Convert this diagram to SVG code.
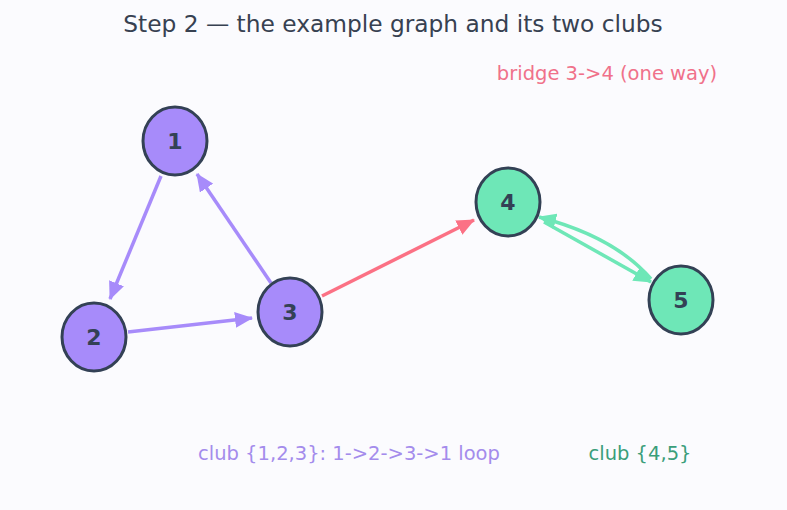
<svg xmlns="http://www.w3.org/2000/svg" width="787" height="510" viewBox="0 0 787 510">
<style>
text{font-family:"DejaVu Sans","Liberation Sans",sans-serif}
.node{stroke:#334155;stroke-width:3}
.a{fill:#a78bfa}
.b{fill:#6ee7b7}
.lbl{font-size:22px;font-weight:bold;fill:#334155;text-anchor:middle}
.e{fill:none;stroke-width:3.5}
</style>
<defs>
<marker id="mp" markerUnits="userSpaceOnUse" markerWidth="18" markerHeight="16" refX="17" refY="8" orient="auto"><path d="M0,0 L18,8 L0,16 Z" fill="#a78bfa"/></marker>
<marker id="mr" markerUnits="userSpaceOnUse" markerWidth="18" markerHeight="16" refX="17" refY="8" orient="auto"><path d="M0,0 L18,8 L0,16 Z" fill="#fb7185"/></marker>
<marker id="mg" markerUnits="userSpaceOnUse" markerWidth="18" markerHeight="16" refX="17" refY="8" orient="auto"><path d="M0,0 L18,8 L0,16 Z" fill="#6ee7b7"/></marker>
</defs>
<rect width="787" height="510" fill="#fbfbfe"/>
<text x="393" y="32" font-size="23.3" fill="#374151" text-anchor="middle">Step 2 — the example graph and its two clubs</text>
<text x="607" y="80" font-size="19.5" fill="#f0718a" text-anchor="middle">bridge 3-&gt;4 (one way)</text>
<g id="connectors">
<path class="e" d="M161,176 L110,299" stroke="#a78bfa" marker-end="url(#mp)"/>
<path class="e" d="M128,332 L252,318" stroke="#a78bfa" marker-end="url(#mp)"/>
<path class="e" d="M271,283 L197,174" stroke="#a78bfa" marker-end="url(#mp)"/>
<path class="e" d="M322,296 L474,220" stroke="#fb7185" marker-end="url(#mr)"/>
<path class="e" d="M544,222 L651,282" stroke="#6ee7b7" marker-end="url(#mg)"/>
<path class="e" d="M651,279 Q615,237 539,217" stroke="#6ee7b7" marker-end="url(#mg)"/>
</g>
<g id="node1"><ellipse class="node a" cx="175" cy="141" rx="32" ry="34"/><text class="lbl" x="175" y="149">1</text></g>
<g id="node2"><ellipse class="node a" cx="94" cy="337" rx="32" ry="34"/><text class="lbl" x="94" y="345">2</text></g>
<g id="node3"><ellipse class="node a" cx="290" cy="312" rx="32" ry="34"/><text class="lbl" x="290" y="320">3</text></g>
<g id="node4"><ellipse class="node b" cx="508" cy="202" rx="32" ry="34"/><text class="lbl" x="508" y="210">4</text></g>
<g id="node5"><ellipse class="node b" cx="681" cy="300" rx="32" ry="34"/><text class="lbl" x="681" y="308">5</text></g>
<text x="349" y="460" font-size="19.5" fill="#a48cec" text-anchor="middle">club {1,2,3}: 1-&gt;2-&gt;3-&gt;1 loop</text>
<text x="640" y="460" font-size="19.5" fill="#3a9e7a" text-anchor="middle">club {4,5}</text>
</svg>
